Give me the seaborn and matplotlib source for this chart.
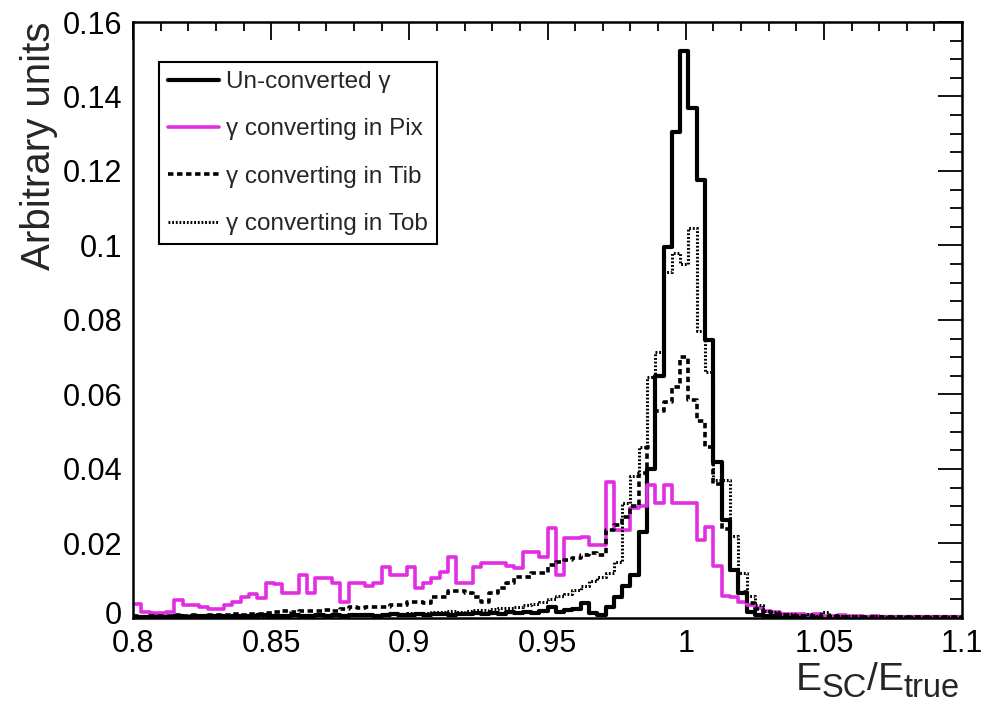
import numpy as np
import pandas as pd
import matplotlib
matplotlib.use("Agg")
import matplotlib.pyplot as plt
import matplotlib.transforms as mtransforms
from matplotlib.ticker import FixedLocator, FixedFormatter, MultipleLocator
import seaborn as sns

# ---------------- data ----------------
x_min, x_max, n_bins = 0.8, 1.1, 100

uncv = [0.0003, 0.0002, 0.0004, 0.0003, 0.0002, 0.0005, 0.0003, 0.0004, 0.0006, 0.0004,
        0.0005, 0.0003, 0.0006, 0.0005, 0.0004, 0.0007, 0.0005, 0.0006, 0.0004, 0.0007,
        0.0006, 0.0005, 0.0008, 0.0006, 0.0007, 0.0005, 0.0008, 0.0007, 0.0009, 0.0006,
        0.0008, 0.0010, 0.0007, 0.0009, 0.0011, 0.0008, 0.0010, 0.0012, 0.0009, 0.0011,
        0.0010, 0.0013, 0.0011, 0.0014, 0.0012, 0.0015, 0.0013, 0.0016, 0.0014, 0.0018,
        0.0030, 0.0017, 0.0022, 0.0025, 0.0040, 0.0013, 0.0008, 0.0030, 0.0055, 0.0085,
        0.0115, 0.0230, 0.0400, 0.0650, 0.0996, 0.1306, 0.1523, 0.1368, 0.1176, 0.0746,
        0.0420, 0.0263, 0.0129, 0.0066, 0.0015, 0.0008, 0.0005, 0.0004, 0.0003, 0.0003,
        0.0002, 0.0002, 0.0002, 0.0002, 0.0002, 0.0002, 0.0002, 0.0002, 0.0002, 0.0002,
        0.0002, 0.0002, 0.0002, 0.0002, 0.0002, 0.0002, 0.0002, 0.0002, 0.0002, 0.0002]

pix = [0.0038, 0.0017, 0.0014, 0.0014, 0.0015, 0.0047, 0.0035, 0.0035, 0.0030, 0.0025,
       0.0025, 0.0035, 0.0044, 0.0057, 0.0064, 0.0053, 0.0093, 0.0090, 0.0066, 0.0066,
       0.0115, 0.0066, 0.0107, 0.0107, 0.0095, 0.0044, 0.0095, 0.0095, 0.0085, 0.0095,
       0.0138, 0.0115, 0.0115, 0.0138, 0.0080, 0.0095, 0.0107, 0.0124, 0.0165, 0.0093,
       0.0093, 0.0138, 0.0147, 0.0147, 0.0147, 0.0140, 0.0135, 0.0178, 0.0178, 0.0165,
       0.0241, 0.0115, 0.0214, 0.0214, 0.0218, 0.0196, 0.0196, 0.0366, 0.0236, 0.0236,
       0.0294, 0.0300, 0.0357, 0.0308, 0.0357, 0.0308, 0.0310, 0.0310, 0.0210, 0.0245,
       0.0140, 0.0060, 0.0057, 0.0044, 0.0035, 0.0026, 0.0020, 0.0015, 0.0012, 0.0010,
       0.0012, 0.0008, 0.0010, 0.0006, 0.0005, 0.0007, 0.0004, 0.0005, 0.0003, 0.0004,
       0.0003, 0.0002, 0.0003, 0.0002, 0.0003, 0.0002, 0.0003, 0.0002, 0.0002, 0.0003]

tib = [0.0005, 0.0003, 0.0006, 0.0004, 0.0005, 0.0007, 0.0005, 0.0008, 0.0006, 0.0007,
       0.0009, 0.0008, 0.0010, 0.0009, 0.0012, 0.0011, 0.0013, 0.0015, 0.0018, 0.0016,
       0.0019, 0.0018, 0.0020, 0.0022, 0.0020, 0.0025, 0.0030, 0.0028, 0.0030, 0.0030,
       0.0030, 0.0035, 0.0035, 0.0044, 0.0044, 0.0040, 0.0057, 0.0057, 0.0072, 0.0072,
       0.0066, 0.0057, 0.0044, 0.0066, 0.0080, 0.0093, 0.0110, 0.0110, 0.0121, 0.0121,
       0.0142, 0.0151, 0.0155, 0.0160, 0.0170, 0.0174, 0.0170, 0.0236, 0.0250, 0.0270,
       0.0300, 0.0390, 0.0460, 0.0555, 0.0580, 0.0620, 0.0700, 0.0585, 0.0530, 0.0460,
       0.0360, 0.0240, 0.0130, 0.0070, 0.0040, 0.0025, 0.0015, 0.0010, 0.0008, 0.0006,
       0.0005, 0.0004, 0.0005, 0.0003, 0.0004, 0.0003, 0.0003, 0.0002, 0.0003, 0.0002,
       0.0002, 0.0002, 0.0002, 0.0002, 0.0002, 0.0002, 0.0002, 0.0002, 0.0002, 0.0002]

tob = [0.0003, 0.0004, 0.0003, 0.0005, 0.0004, 0.0003, 0.0005, 0.0004, 0.0006, 0.0005,
       0.0004, 0.0006, 0.0005, 0.0007, 0.0006, 0.0005, 0.0007, 0.0006, 0.0008, 0.0007,
       0.0006, 0.0008, 0.0007, 0.0009, 0.0008, 0.0007, 0.0009, 0.0008, 0.0010, 0.0009,
       0.0010, 0.0012, 0.0011, 0.0013, 0.0012, 0.0014, 0.0016, 0.0015, 0.0018, 0.0017,
       0.0020, 0.0022, 0.0021, 0.0024, 0.0026, 0.0028, 0.0030, 0.0034, 0.0038, 0.0042,
       0.0050, 0.0060, 0.0065, 0.0075, 0.0085, 0.0100, 0.0110, 0.0120, 0.0150, 0.0310,
       0.0380, 0.0460, 0.0647, 0.0714, 0.0930, 0.0980, 0.0950, 0.1047, 0.0770, 0.0660,
       0.0370, 0.0370, 0.0220, 0.0120, 0.0060, 0.0035, 0.0020, 0.0015, 0.0012, 0.0010,
       0.0008, 0.0012, 0.0006, 0.0015, 0.0006, 0.0005, 0.0004, 0.0005, 0.0003, 0.0004,
       0.0003, 0.0003, 0.0002, 0.0003, 0.0002, 0.0002, 0.0002, 0.0002, 0.0002, 0.0002]

labels = ["Un-converted \u03b3", "\u03b3 converting in Pix",
          "\u03b3 converting in Tib", "\u03b3 converting in Tob"]

x_ticks = [0.8, 0.85, 0.9, 0.95, 1.0, 1.05, 1.1]
x_tick_labels = ["0.8", "0.85", "0.9", "0.95", "1", "1.05", "1.1"]
y_ticks = [0, 0.02, 0.04, 0.06, 0.08, 0.1, 0.12, 0.14, 0.16]
y_tick_labels = ["0", "0.02", "0.04", "0.06", "0.08", "0.1", "0.12", "0.14", "0.16"]

y_title = "Arbitrary units"
# x title pieces: (text, is_subscript)
x_title_parts = [("E", False), ("SC", True), ("/", False), ("E", False), ("true", True)]

# ---------------- style ----------------
sns.set_style("white")
plt.rcParams["font.family"] = ["Liberation Sans", "DejaVu Sans"]

edges = np.linspace(x_min, x_max, n_bins + 1)
centers = 0.5 * (edges[:-1] + edges[1:])
bin_list = [float(e) for e in edges]

df = pd.DataFrame({"x": centers, "uncv": uncv, "pix": pix, "tib": tib, "tob": tob})

fig = plt.figure(figsize=(9.83, 7.04), dpi=100)
ax = fig.add_axes([0.1353, 0.1222, 0.9787 - 0.1353, 0.96875 - 0.1222])

styles = [
    ("uncv", labels[0], "black", "-", 3.0),
    ("pix", labels[1], "#e22ee2", "-", 2.6),
    ("tib", labels[2], "black", (0, (1.5, 1.0)), 2.6),
    ("tob", labels[3], "black", (0, (0.6, 0.6)), 2.2),
]
for col, lab, color, ls, lw in styles:
    sns.histplot(data=df, x="x", weights=col, bins=bin_list, element="step",
                 fill=False, color=color, linestyle=ls, linewidth=lw,
                 label=lab, ax=ax)

ax.set_xlim(x_min, x_max)
ax.set_ylim(0, 0.16)

ax.xaxis.set_major_locator(FixedLocator(x_ticks))
ax.xaxis.set_major_formatter(FixedFormatter(x_tick_labels))
ax.xaxis.set_minor_locator(MultipleLocator(0.01))
ax.yaxis.set_major_locator(FixedLocator(y_ticks))
ax.yaxis.set_major_formatter(FixedFormatter(y_tick_labels))
ax.yaxis.set_minor_locator(MultipleLocator(0.005))

ax.tick_params(axis="both", which="both", direction="in", top=True, right=True,
               colors="black", width=1.3)
ax.tick_params(axis="x", which="major", length=13, pad=8, labelsize=22)
ax.tick_params(axis="x", which="minor", length=6.5)
ax.tick_params(axis="y", which="major", length=17, pad=8, labelsize=22)
ax.tick_params(axis="y", which="minor", length=9)

for sp in ax.spines.values():
    sp.set_visible(True)
    sp.set_color("black")
    sp.set_linewidth(1.8)

ax.set_ylabel(y_title, fontsize=29, loc="top", labelpad=3)
ax.set_xlabel("")

# nudge the "0" y tick label up a little so it clears the "0.8" x tick label
zero_lbl = ax.yaxis.get_major_ticks()[0].label1
zero_lbl.set_transform(zero_lbl.get_transform() +
                       mtransforms.ScaledTranslation(0, 4 / 72, fig.dpi_scale_trans))

# x title built right-to-left from pieces (main letters + larger subscripts)
main_size, sub_size = 28, 23.5
main_base_px, sub_base_px = 14, 7
prev = None
for text, is_sub in reversed(x_title_parts):
    size = sub_size if is_sub else main_size
    base = sub_base_px if is_sub else main_base_px
    if prev is None:
        prev = ax.annotate(text, xy=(0.9975, base),
                           xycoords=("axes fraction", "figure pixels"),
                           ha="right", va="baseline", fontsize=size,
                           annotation_clip=False)
    else:
        prev = ax.annotate(text, xy=(0, base), xycoords=(prev, "figure pixels"),
                           ha="right", va="baseline", fontsize=size,
                           annotation_clip=False)

handles, labs = ax.get_legend_handles_labels()
leg = ax.legend(handles, labs, loc="upper left", bbox_to_anchor=(0.031, 0.933),
                borderaxespad=0, fontsize=17.5, frameon=True, fancybox=False,
                edgecolor="black", framealpha=1, handlelength=2.1,
                handletextpad=0.3, labelspacing=1.04, borderpad=0.38)
leg.get_frame().set_linewidth(1.5)

fig.savefig("out.png", dpi=100)
